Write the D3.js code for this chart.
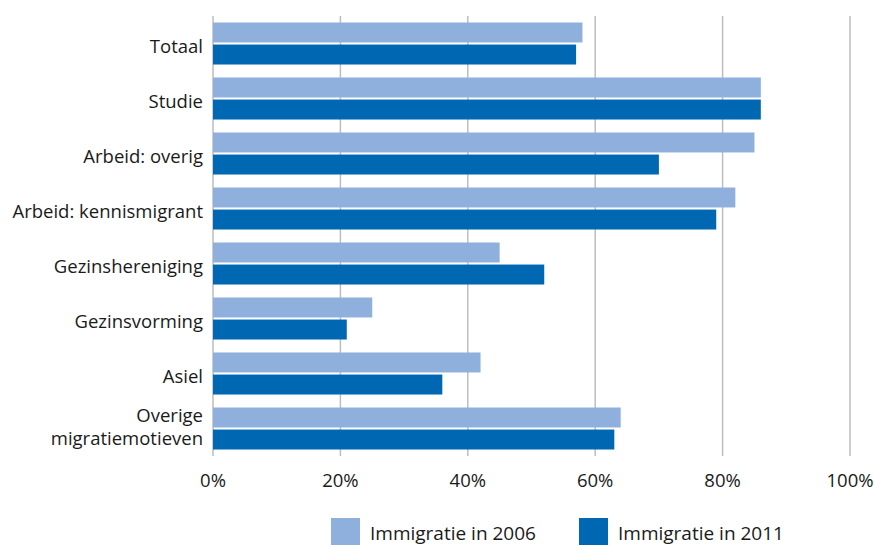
<!DOCTYPE html>
<html><head><meta charset="utf-8">
<script src="https://cdn.jsdelivr.net/npm/d3@7"></script>
<style>body{margin:0;background:#fff}svg{display:block}text{font-family:"Open Sans","Noto Sans",sans-serif;fill:#1a1a1a}</style>
</head><body><svg id="c" width="874" height="545"></svg>
<script>
const categories = ["Totaal","Studie","Arbeid: overig","Arbeid: kennismigrant","Gezinshereniging","Gezinsvorming","Asiel","Overige migratiemotieven"];
const series = ["Immigratie in 2006","Immigratie in 2011"];
const values2006 = [58,86,85,82,45,25,42,64];
const values2011 = [57,86,70,79,52,21,36,63];
const ticks = [0,20,40,60,80,100];
const colors = ["#8FAFDC","#0068B2"];

const svg = d3.select("#c");
const x = d3.scaleLinear().domain([0,100]).range([213,850]);
const y = d3.scaleBand().domain(categories).range([16,456]).paddingInner(0.236).paddingOuter(0.118);
const sub = d3.scaleBand().domain(series).range([0,y.bandwidth()]).paddingInner(0.095);

// gridlines
svg.append("g").selectAll("line").data(ticks).join("line")
  .attr("x1",d=>x(d)).attr("x2",d=>x(d)).attr("y1",16).attr("y2",456)
  .attr("stroke","#bdbdbd").attr("stroke-width",1.5);

const data = [values2006, values2011];
series.forEach((s,si)=>{
  svg.append("g").selectAll("rect").data(categories).join("rect")
    .attr("x",x(0)).attr("y",(c)=>y(c)+sub(s))
    .attr("width",(c,i)=>x(data[si][i])-x(0)).attr("height",sub.bandwidth())
    .attr("fill",colors[si]);
});

// category labels
const fs = 18.5;
const lab = svg.append("g");
categories.forEach(c=>{
  const cy = y(c)+y.bandwidth()/2;
  if(c==="Overige migratiemotieven"){
    const t = lab.append("text").attr("text-anchor","end").attr("font-size",fs);
    t.append("tspan").attr("x",203).attr("y",cy-7).text("Overige");
    t.append("tspan").attr("x",203).attr("y",cy+16).text("migratiemotieven");
  } else {
    lab.append("text").attr("x",203).attr("y",cy+9).attr("text-anchor","end").attr("font-size",fs).text(c);
  }
});

// x tick labels
svg.append("g").selectAll("text").data(ticks).join("text")
  .attr("x",d=>x(d)).attr("y",487).attr("text-anchor","middle").attr("font-size",fs)
  .text(d=>d+"%");

// legend
const lx = [331,579];
series.forEach((s,i)=>{
  svg.append("rect").attr("x",lx[i]).attr("y",518).attr("width",29).attr("height",27).attr("fill",colors[i]);
  svg.append("text").attr("x",lx[i]+39).attr("y",540).attr("font-size",19).text(s);
});
</script></body></html>
